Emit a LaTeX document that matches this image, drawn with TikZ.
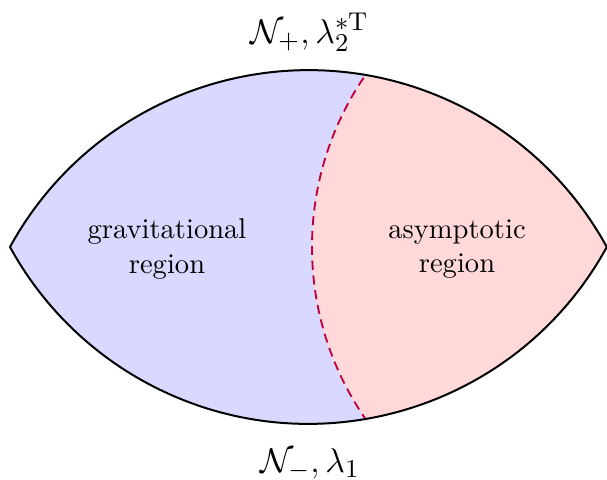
\documentclass[tikz,border=0pt]{standalone}
\begin{document}
\begin{tikzpicture}[x=0.35pt,y=0.35pt,
  lens/.style={insert path={(10,232) arc[start angle=151.3, end angle=28.7, radius=340.2] arc[start angle=-28.7, end angle=-151.3, radius=340.2] -- cycle}},
  region/.style={align=center, inner sep=0pt},
  lbl/.style={anchor=base, font=\fontsize{13}{15}\selectfont, inner sep=0pt}]
\useasboundingbox (0,0) rectangle (607,479);
\begin{scope}
  \clip[lens];
  \fill[blue!15] (0,0) rectangle (607,479);
  \fill[red!15] (615,232) circle[radius=303];
  \draw[purple, line width=0.65pt, dash pattern=on 3.2pt off 2pt] (615,232) circle[radius=303];
\end{scope}
\draw[line width=0.7pt, line join=round] [lens];
\node[region] (grav) at (167,230) {gravitational\\region};
\node[region] (asym) at (457,230) {asymptotic\\region};
\node[lbl] (top) at (309.5,436) {$\mathcal{N}_+,\lambda_2^{*\mathrm{T}}$};
\node[lbl] (bot) at (310,7) {$\mathcal{N}_-,\lambda_1$};
\end{tikzpicture}
\end{document}
